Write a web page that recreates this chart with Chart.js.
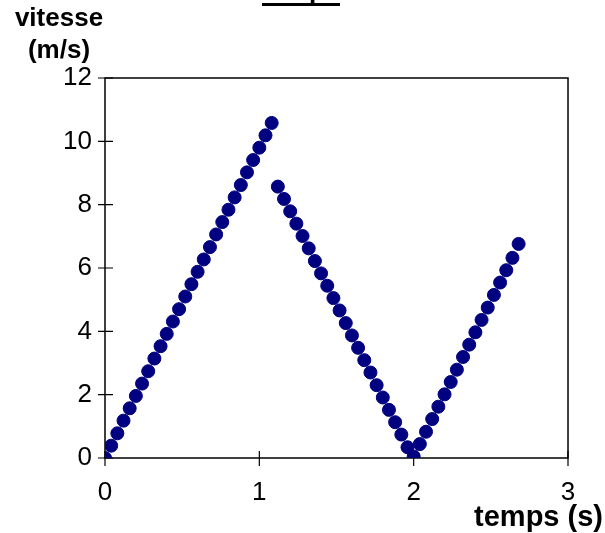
<!DOCTYPE html>
<html>
<head>
<meta charset="utf-8">
<script src="https://cdn.jsdelivr.net/npm/chart.js@4.4.0/dist/chart.umd.min.js"></script>
<style>
  html, body { margin: 0; padding: 0; background: #fff; }
  #wrap { width: 605px; height: 533px; }
</style>
</head>
<body>
<div id="wrap"><canvas id="chart"></canvas></div>
<script>
// Data: time (s) and speed (m/s)
const temps = [
  0.00, 0.04, 0.08, 0.12, 0.16, 0.20, 0.24, 0.28, 0.32, 0.36, 0.40, 0.44, 0.48, 0.52,
  0.56, 0.60, 0.64, 0.68, 0.72, 0.76, 0.80, 0.84, 0.88, 0.92, 0.96, 1.00, 1.04, 1.08,
  1.12, 1.16, 1.20, 1.24, 1.28, 1.32, 1.36, 1.40, 1.44, 1.48, 1.52, 1.56, 1.60, 1.64,
  1.68, 1.72, 1.76, 1.80, 1.84, 1.88, 1.92, 1.96, 2.00,
  2.04, 2.08, 2.12, 2.16, 2.20, 2.24, 2.28, 2.32, 2.36, 2.40, 2.44, 2.48, 2.52, 2.56,
  2.60, 2.64, 2.68
];
const vitesse = [
  0.00, 0.39, 0.78, 1.18, 1.57, 1.96, 2.35, 2.74, 3.14, 3.53, 3.92, 4.31, 4.70, 5.10,
  5.49, 5.88, 6.27, 6.66, 7.06, 7.45, 7.84, 8.23, 8.62, 9.02, 9.41, 9.80, 10.19, 10.58,
  8.57, 8.18, 7.79, 7.40, 7.01, 6.62, 6.22, 5.83, 5.44, 5.05, 4.66, 4.26, 3.87, 3.48,
  3.09, 2.70, 2.30, 1.91, 1.52, 1.13, 0.74, 0.34, 0.05,
  0.44, 0.83, 1.23, 1.62, 2.01, 2.40, 2.79, 3.19, 3.58, 3.97, 4.36, 4.75, 5.15, 5.54,
  5.93, 6.32, 6.76
];
const xTicks = [0, 1, 2, 3];
const yTicks = [0, 2, 4, 6, 8, 10, 12];

const titleText = "temps";
const yTitle = ["vitesse", "(m/s)"];
const xTitle = "temps (s)";

const points = temps.map((t, i) => ({ x: t, y: vitesse[i] }));

// Box frame + ticks crossing the axes, drawn under the dots
const frame = {
  id: "frame",
  beforeDatasetsDraw(chart) {
    const { ctx, chartArea: a, scales } = chart;
    ctx.save();
    ctx.strokeStyle = "#000";
    ctx.lineWidth = 1.5;
    ctx.strokeRect(a.left, a.top, a.right - a.left, a.bottom - a.top);
    ctx.lineWidth = 1.2;
    ctx.beginPath();
    yTicks.forEach(v => {
      const y = scales.y.getPixelForValue(v);
      ctx.moveTo(a.left - 7, y);
      ctx.lineTo(a.left + 8, y);
    });
    xTicks.forEach(v => {
      const x = scales.x.getPixelForValue(v);
      ctx.moveTo(x, a.bottom - 7);
      ctx.lineTo(x, a.bottom + 8);
    });
    ctx.stroke();
    ctx.restore();
  },
  afterDraw(chart) {
    const { ctx } = chart;
    ctx.save();
    ctx.fillStyle = "#000";
    ctx.textAlign = "center";
    ctx.textBaseline = "middle";
    ctx.font = "bold 26px Arial, 'Liberation Sans', sans-serif";
    ctx.fillText(yTitle[0], 59, 19);
    ctx.fillText(yTitle[1], 59, 51);
    ctx.textAlign = "right";
    ctx.font = "bold 29px Arial, 'Liberation Sans', sans-serif";
    ctx.fillText(xTitle, 603, 518);
    // title, mostly above the top edge, underlined
    ctx.textAlign = "center";
    ctx.textBaseline = "alphabetic";
    ctx.font = "bold 26px Arial, 'Liberation Sans', sans-serif";
    ctx.fillText(titleText, 301, 0);
    ctx.fillRect(262, 3, 78, 3);
    ctx.restore();
  }
};

const tickFont = { family: "Arial, 'Liberation Sans', sans-serif", size: 26 };

new Chart(document.getElementById("chart"), {
  type: "scatter",
  data: {
    datasets: [{
      data: points,
      backgroundColor: "#000080",
      borderColor: "#000080",
      borderWidth: 1,
      pointRadius: 6.5,
      showLine: false
    }]
  },
  options: {
    responsive: true,
    maintainAspectRatio: false,
    animation: false,
    layout: { padding: { top: 78, right: 37, left: 0, bottom: 0 } },
    plugins: { legend: { display: false }, tooltip: { enabled: false } },
    scales: {
      x: {
        type: "linear",
        min: 0, max: 3,
        afterFit: s => { s.height = 75; },
        afterBuildTicks: s => { s.ticks = xTicks.map(v => ({ value: v })); },
        grid: { display: false, drawTicks: false },
        border: { display: false },
        ticks: { font: tickFont, color: "#000", padding: 19, maxRotation: 0 }
      },
      y: {
        min: 0, max: 12,
        afterFit: s => { s.width = 105; },
        afterBuildTicks: s => { s.ticks = yTicks.map(v => ({ value: v })); },
        grid: { display: false, drawTicks: false },
        border: { display: false },
        ticks: { font: tickFont, color: "#000", padding: 13 }
      }
    }
  },
  plugins: [frame]
});
</script>
</body>
</html>
